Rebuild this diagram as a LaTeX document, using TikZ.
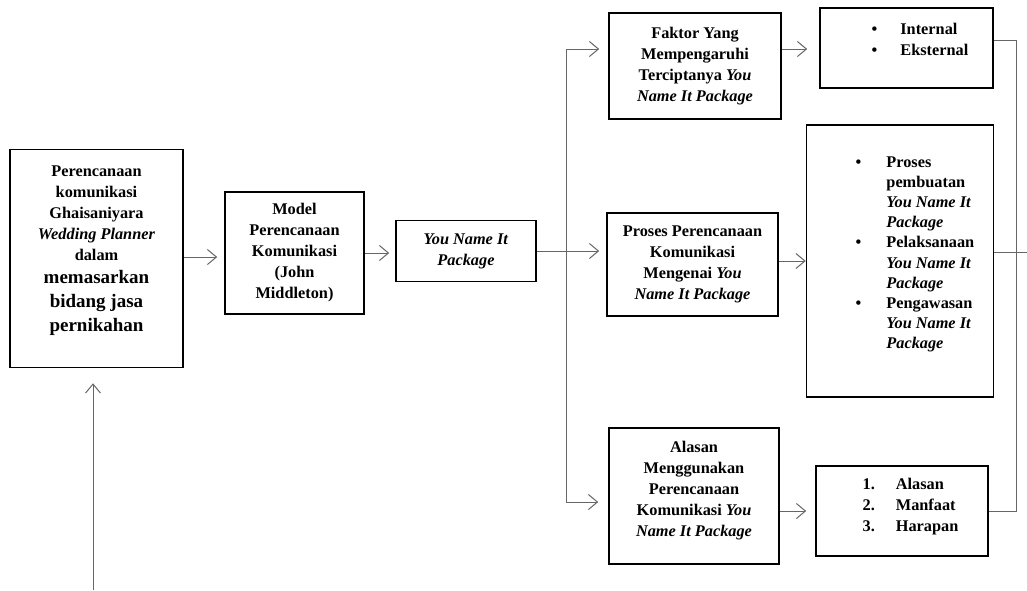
\documentclass[tikz,border=0pt]{standalone}
\usepackage{fontspec}
\setmainfont{Liberation Serif}
\usetikzlibrary{arrows.meta}
% a zero-width rule that deepens the last line, so the text sits higher
\newcommand{\ganjal}[1]{\rule[-#1]{0pt}{#1}}
\begin{document}
\begin{tikzpicture}[x=1pt,y=-1pt,
  kotak/.style={draw=black, line width=1.6pt, align=center, inner sep=2pt,
    font=\fontsize{16.3}{21}\selectfont\bfseries},
  garis/.style={draw=black!60, line width=1pt},
  panah/.style={garis, -{Straight Barb[length=9pt,width=15pt]}}]
\useasboundingbox[fill=white] (0,0) rectangle (1027,590);

% boxes
\node[kotak, minimum width=173pt, minimum height=218pt] (rencana) at (96.5,258.5)
  {Perencanaan\\ komunikasi\\ Ghaisaniyara\\ \textit{Wedding Planner}\\ dalam\\[2pt]
   {\fontsize{19}{24}\selectfont memasarkan}\\[3pt]
   {\fontsize{19}{24}\selectfont bidang jasa}\\[3pt]
   {\fontsize{19}{24}\selectfont pernikahan\ganjal{20pt}}};
\node[kotak, minimum width=139pt, minimum height=122pt] (model) at (294.5,253)
  {Model\\ Perencanaan\\ Komunikasi\\ (John\\ Middleton)};
\node[kotak, minimum width=140pt, minimum height=61pt] (pkg) at (466,251)
  {\textit{You Name It}\\ \textit{Package}};
\node[kotak, minimum width=171pt, minimum height=103pt] (proses) at (692.5,264.5)
  {Proses Perencanaan\\ Komunikasi\\ Mengenai \textit{You}\\ \textit{Name It Package}};
\node[kotak, minimum width=172pt, minimum height=106pt] (faktor) at (695,66)
  {Faktor Yang\\ Mempengaruhi\\ Terciptanya \textit{You}\\ \textit{Name It Package}};
\node[kotak, minimum width=173pt, minimum height=80pt] (internal) at (906.5,48)
  {\begin{tabular}{@{\hspace{27pt}}l@{\hspace{23pt}}l@{}}
   \textbullet & Internal\\
   \textbullet & Eksternal\ganjal{20pt}
   \end{tabular}};
\node[kotak, minimum width=187pt, minimum height=272pt] (tahap) at (900,261)
  {\fontsize{16.3}{20.2}\selectfont
   \begin{tabular}{@{\hspace{30pt}}l@{\hspace{25pt}}l@{}}
   \textbullet & Proses\\
               & pembuatan\\
               & \textit{You Name It}\\
               & \textit{Package}\\
   \textbullet & Pelaksanaan\\
               & \textit{You Name It}\\
               & \textit{Package}\\
   \textbullet & Pengawasan\\
               & \textit{You Name It}\\
               & \textit{Package}\ganjal{20pt}
   \end{tabular}};
\node[kotak, minimum width=170pt, minimum height=136pt] (alasan) at (694,496)
  {Alasan\\ Menggunakan\\ Perencanaan\\ Komunikasi \textit{You}\\ \textit{Name It Package}\ganjal{14.5pt}};
\node[kotak, minimum width=172pt, minimum height=90pt] (hasil) at (902,511)
  {\begin{tabular}{@{\hspace{17pt}}l@{\hspace{21pt}}l@{}}
   1. & Alasan\\
   2. & Manfaat\\
   3. & Harapan\ganjal{16pt}
   \end{tabular}};

% junctions and free ends
\coordinate (jA) at (566,49);
\coordinate (jB) at (566,502);
\coordinate (kanan) at (1016,0);
\coordinate (tepi) at (1027,0);
\coordinate (bawah) at (93,590);

% connectors
\draw[panah, shorten >=7pt] (rencana.east |- 0,257) -- (model.west |- 0,257);
\draw[panah, shorten >=6pt] (model.east) -- (model.east -| pkg.west);
\draw[panah, shorten >=7pt] (pkg.east) -- (pkg.east -| proses.west);
\draw[garis] (jA) -- (jB);
\draw[panah, shorten >=9pt] (jA) -- (jA -| faktor.west);
\draw[panah, shorten >=12pt] (faktor.east |- jA) -- (internal.west |- jA);
\draw[panah] (tahap.west -| proses.east) -- (tahap.west);
\draw[garis] ([yshift=9pt]tahap.east) -- ([yshift=9pt]tahap.east -| tepi);
\draw[panah, shorten >=10pt] (jB) -- (jB -| alasan.west);
\draw[panah, shorten >=9pt] (hasil.west -| alasan.east) -- (hasil.west);
\draw[garis] ([yshift=8pt]internal.east) -| (kanan |- hasil.east) -- (hasil.east);
\draw[panah, shorten >=15pt] (bawah) -- (bawah |- rencana.south);
\end{tikzpicture}
\end{document}
